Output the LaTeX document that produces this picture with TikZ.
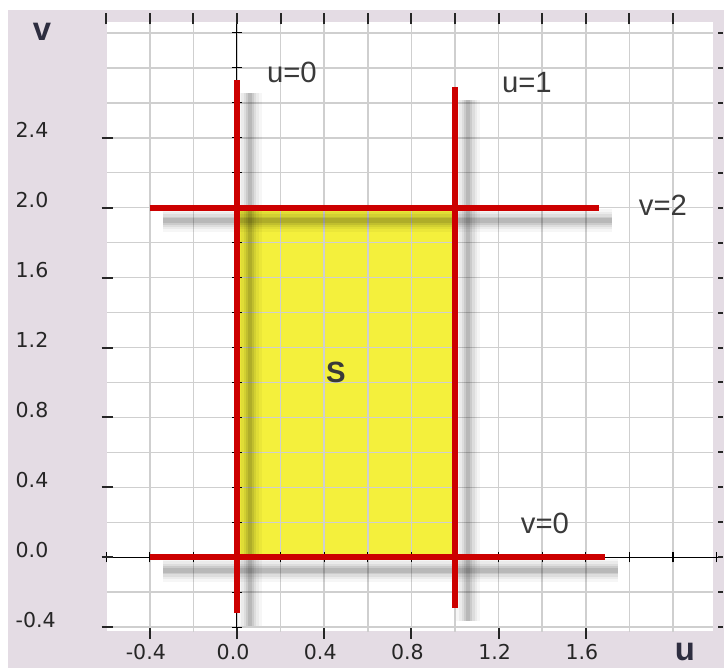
\documentclass[tikz,border=0pt]{standalone}
\usepackage{fontspec}
\setmainfont{Liberation Sans}
\newfontfamily\tickfont{DejaVu Sans}
\usepackage{tikz}
\usetikzlibrary{calc}
\definecolor{framebg}{HTML}{E4DCE4}
\definecolor{gridgray}{HTML}{CFCFCF}
\definecolor{linered}{HTML}{CC0000}
\definecolor{regionyellow}{HTML}{F4F03C}
\definecolor{labelgray}{HTML}{3A3A3A}
\definecolor{axisnavy}{HTML}{2E2E40}

% soft drop shadow under a red line
\newcommand{\castshadow}[2]{%
  \foreach \w/\o in {20/0.035,15/0.045,11/0.06,7/0.08,4/0.09}
    \draw[line width=\w pt, black, opacity=\o] ($(#1)+(0.06,-0.074)$) -- ($(#2)+(0.06,-0.074)$);}

\begin{document}
\begin{tikzpicture}[x=6.54cm, y=5.244cm,
  gridline/.style={gridgray, line width=1.3pt},
  axisline/.style={black, line width=0.9pt},
  edgetick/.style={black!85, line width=1.7pt},
  curveline/.style={linered, line width=5pt},
  curvelabel/.style={font=\fontsize{25}{30}\selectfont, text=labelgray, inner sep=0pt},
  ticklabel/.style={font=\tickfont\fontsize{17.5}{21}\selectfont, text=black!85, inner sep=0pt},
  axislabel/.style={font=\bfseries\fontsize{28}{33}\selectfont, text=axisnavy, inner sep=0pt}]

  \useasboundingbox (-1.087,-0.633) rectangle (2.234,3.188);
  \fill[framebg] (-1.050,-0.633) rectangle (2.234,3.131);
  \fill[white] (-0.596,-0.422) rectangle (2.183,3.062);

  % region S
  \fill[regionyellow] (0,0) rectangle (1,2);

  \begin{scope}
    \clip (-0.596,-0.422) rectangle (2.183,3.062);
    \foreach \u in {-0.6,-0.4,...,2.21}
      \draw[gridline] (\u,-0.5) -- (\u,3.1);
    \foreach \v in {-0.4,-0.2,...,3.01}
      \draw[gridline] (-0.7,\v) -- (2.3,\v);
  \end{scope}

  \coordinate (uzero-bot) at (0,-0.32);
  \coordinate (uzero-top) at (0,2.73);
  \coordinate (uone-bot) at (1,-0.29);
  \coordinate (uone-top) at (1,2.69);
  \coordinate (vzero-left) at (-0.4,0);
  \coordinate (vzero-right) at (1.69,0);
  \coordinate (vtwo-left) at (-0.4,2);
  \coordinate (vtwo-right) at (1.66,2);

  \castshadow{uzero-bot}{uzero-top}
  \castshadow{uone-bot}{uone-top}
  \castshadow{vzero-left}{vzero-right}
  \castshadow{vtwo-left}{vtwo-right}

  % axes through the origin
  \draw[axisline] (0,-0.42) -- (0,3.112);
  \draw[axisline] (-0.6,0) -- (2.21,0);
  \foreach \v in {-0.4,-0.2,...,3.01}
    \draw[axisline] (-0.023,\v) -- (0.023,\v);
  \foreach \u in {-0.6,-0.4,...,2.21}
    \draw[axisline] (\u,-0.029) -- (\u,0.029);

  \draw[curveline] (uzero-bot) -- (uzero-top);
  \draw[curveline] (uone-bot) -- (uone-top);
  \draw[curveline] (vzero-left) -- (vzero-right);
  \draw[curveline] (vtwo-left) -- (vtwo-right);

  % ticks on the frame
  \foreach \u in {-0.6,-0.4,...,2.01}
    \draw[edgetick] (\u,3.049) -- (\u,3.112);
  \foreach \u in {-0.4,0,...,1.61}
    \draw[edgetick] (\u,-0.405) -- (\u,-0.468);
  \foreach \v in {-0.4,0,...,2.41}
    \draw[edgetick] (-0.621,\v) -- (-0.569,\v);
  \foreach \v in {-0.4,-0.2,...,3.01}
    \draw[edgetick] (2.208,\v) -- (2.228,\v);

  \foreach \v/\t in {-0.4/-0.4,0/0.0,0.4/0.4,0.8/0.8,1.2/1.2,1.6/1.6,2.0/2.0,2.4/2.4}
    \node[ticklabel, anchor=west] (ylab\t) at (-1.016,\v+0.043) {\t};
  \foreach \u/\t in {-0.4/-0.4,0/0.0,0.4/0.4,0.8/0.8,1.2/1.2,1.6/1.6}
    \node[ticklabel] (xlab\t) at (\u-0.018,-0.542) {\t};

  \node[axislabel] (vaxis) at (-0.894,3.005) {v};
  \node[axislabel] (uaxis) at (2.055,-0.542) {u};

  \node[curvelabel] (lab-uzero) at (0.252,2.776) {u=0};
  \node[curvelabel] (lab-uone) at (1.330,2.713) {u=1};
  \node[curvelabel] (lab-vtwo) at (1.954,2.015) {v=2};
  \node[curvelabel] (lab-vzero) at (1.413,0.196) {v=0};
  \node[font=\bfseries\fontsize{25}{30}\selectfont, text=labelgray, inner sep=0pt] (regionS) at (0.454,1.060) {S};
\end{tikzpicture}
\end{document}
